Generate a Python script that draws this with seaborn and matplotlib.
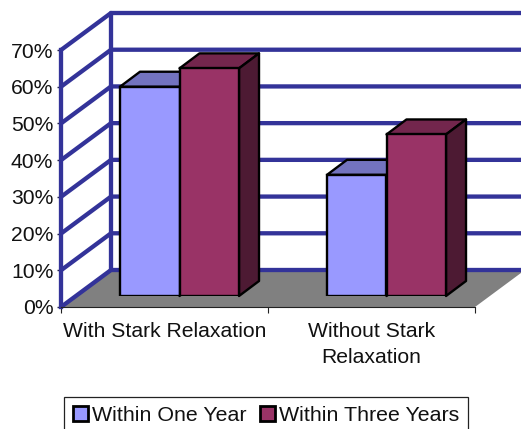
import numpy as np
import pandas as pd
import seaborn as sns
import matplotlib
matplotlib.use("Agg")
import matplotlib.pyplot as plt
from matplotlib.patches import Polygon
from matplotlib.lines import Line2D
from matplotlib.transforms import IdentityTransform

categories = ["With Stark Relaxation", "Without Stark\nRelaxation"]
series_names = ["Within One Year", "Within Three Years"]
within_one_year = [57, 33]
within_three_years = [62, 44]
y_ticks = [0, 10, 20, 30, 40, 50, 60, 70]

W, H = 521, 429
BLUE = "#333399"
FRONT = ["#9999FF", "#993366"]
TOP = ["#7373BF", "#73264D"]
SIDE = ["#4D4D80", "#4D1A33"]
WALL_D = np.array([50.0, 37.0])
BAR_D = np.array([20.0, 15.0])
LW = 1.7

sns.set_theme(style="white")
plt.rcParams["font.family"] = ["Liberation Sans", "DejaVu Sans"]
FS = 15.2

df = pd.DataFrame({
    "cat": categories * 2,
    "series": [series_names[0]] * 2 + [series_names[1]] * 2,
    "val": within_one_year + within_three_years,
})

fig = plt.figure(figsize=(W / 100, H / 100), dpi=100, facecolor="white")
ax = fig.add_axes([61 / W, (H - 307) / H, 414 / W, 257 / H], zorder=1)
ax.set_xlim(-0.5, 1.5)
ax.set_ylim(0, 70)
ax.patch.set_alpha(0)
for s in ["top", "right"]:
    ax.spines[s].set_visible(False)
ax.spines["left"].set_color(BLUE)
ax.spines["left"].set_linewidth(3.1)
ax.spines["bottom"].set_color("#222222")
ax.spines["bottom"].set_linewidth(0.8)
ax.set_yticks(y_ticks)
ax.set_yticklabels([f"{v}%" for v in y_ticks], fontsize=FS, color="#111111")
ax.set_xticks([0, 1])
ax.set_xticklabels(categories, fontsize=FS, color="#111111", linespacing=1.42)
ax.set_xticks([-0.5, 0.5, 1.5], minor=True)
ax.tick_params(axis="x", which="major", length=0, pad=11)
ax.tick_params(axis="x", which="minor", length=4, width=0.8, color="#222222", bottom=True)
ax.tick_params(axis="y", length=3, width=1, color="#222244", left=True, pad=2.5)

fig.canvas.draw()
T = ax.transData.transform
ident = IdentityTransform()

# floor
p0 = T((-0.5, 0)); p1 = T((1.5, 0))
ax.add_patch(Polygon([p0, p1, p1 + WALL_D, p0 + WALL_D], closed=True, facecolor="#808080",
                     edgecolor="none", transform=ident, zorder=0.5, clip_on=False))
# wall grid
for v in y_ticks:
    a = T((-0.5, v)); b = a + WALL_D; c = T((1.5, v)) + WALL_D
    ax.add_line(Line2D([a[0], b[0], c[0]], [a[1], b[1], c[1]], color=BLUE, lw=3.1,
                       transform=ident, clip_on=False, zorder=1, solid_joinstyle="miter"))
a = T((-0.5, 0)) + WALL_D; b = T((-0.5, 70)) + WALL_D
ax.add_line(Line2D([a[0], b[0]], [a[1], b[1]], color=BLUE, lw=3.1, transform=ident,
                   clip_on=False, zorder=1))

# bars: front plane sits partway into the floor depth
ax_b = fig.add_axes([76 / W, (H - 296) / H, 414 / W, 257 / H], zorder=2)
ax_b.patch.set_alpha(0)
sns.barplot(data=df, x="cat", y="val", hue="series", hue_order=series_names,
            palette=FRONT, width=0.575, gap=0, saturation=1, ax=ax_b,
            edgecolor="black", linewidth=LW, zorder=5)
ax_b.set_xlim(-0.5, 1.5)
ax_b.set_ylim(0, 70)
handles, labels = ax_b.get_legend_handles_labels()
ax_b.get_legend().remove()
ax_b.axis("off")
fig.canvas.draw()
B = ax_b.transData.transform
bars = [c for c in ax_b.containers]
for si, cont in enumerate(bars):
    for r in cont:
        x0, x1 = r.get_x(), r.get_x() + r.get_width()
        h = r.get_height()
        bl, br, tl, tr = B((x0, 0)), B((x1, 0)), B((x0, h)), B((x1, h))
        z = 2 + si
        ax_b.add_patch(Polygon([tl, tr, tr + BAR_D, tl + BAR_D], closed=True, facecolor=TOP[si],
                               edgecolor="black", lw=LW, transform=ident, clip_on=False,
                               zorder=z, joinstyle="round"))
        ax_b.add_patch(Polygon([br, tr, tr + BAR_D, br + BAR_D], closed=True, facecolor=SIDE[si],
                               edgecolor="black", lw=LW, transform=ident, clip_on=False,
                               zorder=z, joinstyle="round"))
        r.set_zorder(z + 0.5)

for h_ in handles:
    h_.set_linewidth(2.0)
    h_.set_edgecolor("black")
leg = fig.legend(handles, labels, loc="upper left", bbox_to_anchor=(64 / W, (H - 397) / H),
                 borderaxespad=0, fontsize=15.4, frameon=True, fancybox=False, edgecolor="#222222",
                 facecolor="white", framealpha=1, ncol=2, handlelength=0.7, handleheight=0.7,
                 handletextpad=0.2, columnspacing=0.6, borderpad=0.42)
leg.get_frame().set_linewidth(0.9)
for t in leg.get_texts():
    t.set_color("#111111")

fig.savefig("out.png", dpi=100, facecolor="white")
